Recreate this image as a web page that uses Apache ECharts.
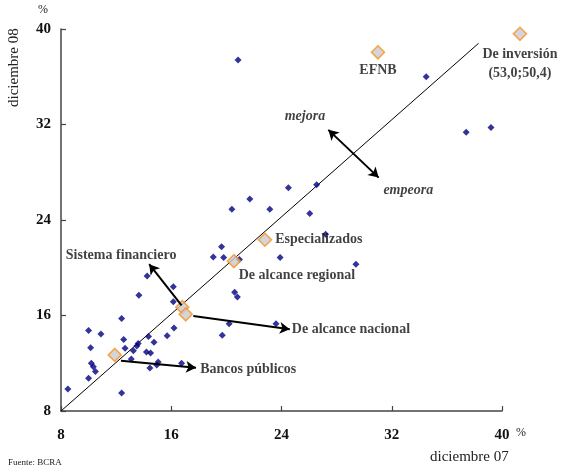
<!DOCTYPE html>
<html>
<head>
<meta charset="utf-8">
<script src="https://cdn.jsdelivr.net/npm/echarts@6/dist/echarts.min.js"></script>
<style>
  html, body { margin: 0; padding: 0; background: #fff; }
  #chart { width: 562px; height: 473px; }
</style>
</head>
<body>
<div id="chart"></div>
<script>
// Ratio por entidad: diciembre 07 (x) vs diciembre 08 (y), en %
const entidadesDic07 = [8.5, 12.4, 10.0, 10.5, 10.35, 10.2, 13.1, 14.45, 14.95, 15.05, 16.75, 14.2, 14.5, 13.25, 12.65, 10.15, 13.5, 13.6, 14.75, 12.55, 14.35, 15.7, 10.9, 10.0, 16.2, 12.4, 16.15, 13.65, 16.15, 14.25, 19.7, 20.2, 23.6, 20.6, 20.8, 19.05, 19.8, 20.95, 23.9, 19.65, 20.4, 23.15, 21.7, 24.5, 26.55, 26.05, 27.2, 29.4, 20.85, 34.5, 37.4, 39.2];
const entidadesDic08 = [9.85, 9.5, 10.75, 11.3, 11.7, 12.0, 12.35, 11.6, 11.85, 12.1, 12.0, 12.95, 12.85, 13.05, 13.25, 13.3, 13.45, 13.65, 13.75, 14.0, 14.25, 14.3, 14.45, 14.75, 14.95, 15.75, 17.15, 17.7, 18.4, 19.3, 14.35, 15.3, 15.3, 17.95, 17.55, 20.9, 20.85, 20.7, 20.85, 21.75, 24.9, 24.9, 25.75, 26.7, 26.95, 24.55, 22.8, 20.3, 37.4, 36.0, 31.35, 31.75];

// Agrupamientos
const grupos = ['Sistema financiero', 'De alcance nacional', 'Bancos públicos', 'De alcance regional', 'Especializados', 'EFNB', 'De inversión'];
const gruposDic07 = [16.8, 17.05, 11.9, 20.55, 22.8, 31.0, 53.0];
const gruposDic08 = [16.7, 16.1, 12.7, 20.55, 22.35, 38.05, 50.4];

const ticks = [8, 16, 24, 32, 40];
const AXIS_MIN = 8, AXIS_MAX = 40, STEP = 8;

const SERIF = '"Liberation Serif", "DejaVu Serif", serif';
const fmt = v => v.toFixed(1).replace('.', ',');

// Valores fuera de escala se dibujan en el borde superior derecho
const clampX = v => Math.min(v, AXIS_MAX + 1.3);
const clampY = v => Math.min(v, AXIS_MAX - 0.4);

const labelBase = { show: true, color: '#111', fontFamily: SERIF, fontWeight: 'bold', fontSize: 14 };

const grupoLabels = {
  'Sistema financiero': { show: false },
  'De alcance nacional': { show: false },
  'Bancos públicos': { show: false },
  'De alcance regional': Object.assign({}, labelBase, { position: 'bottom', distance: 0, offset: [63, 0], formatter: '{b}' }),
  'Especializados': Object.assign({}, labelBase, { position: 'right', distance: 3, formatter: '{b}' }),
  'EFNB': Object.assign({}, labelBase, { position: 'bottom', distance: 4, formatter: '{b}' }),
  'De inversión': Object.assign({}, labelBase, { position: 'bottom', distance: 4, lineHeight: 19,
    formatter: () => 'De inversión\n(' + fmt(gruposDic07[6]) + ';' + fmt(gruposDic08[6]) + ')' })
};

// Textos de anotación (posición en coordenadas de datos)
const notas = [
  { text: 'Sistema financiero', at: [8.35, 21.05], align: 'left', italic: false },
  { text: 'De alcance nacional', at: [24.75, 14.85], align: 'left', italic: false },
  { text: 'Bancos públicos', at: [18.1, 11.5], align: 'left', italic: false },
  { text: 'mejora', at: [25.7, 32.65], align: 'center', italic: true },
  { text: 'empeora', at: [33.2, 26.5], align: 'center', italic: true }
];

// Flechas (desde, hasta) en coordenadas de datos
const flechas = [
  { from: [16.75, 16.85], to: [14.4, 20.3], both: false },
  { from: [17.6, 15.95], to: [24.6, 14.85], both: false },
  { from: [12.35, 12.2], to: [17.8, 11.62], both: false },
  { from: [27.4, 31.55], to: [31.05, 27.55], both: true }
];

const chart = echarts.init(document.getElementById('chart'), null, { renderer: 'canvas' });

const axisCommon = {
  type: 'value', min: AXIS_MIN, max: AXIS_MAX, interval: STEP,
  axisLine: { show: true, lineStyle: { color: '#444', width: 1.5 } },
  axisTick: { show: true, inside: true, length: 5, lineStyle: { color: '#444', width: 1.2 } },
  splitLine: { show: false },
  axisLabel: { color: '#111', fontFamily: SERIF, fontWeight: 'bold', fontSize: 15,
    formatter: v => ticks.includes(v) ? String(v) : '' }
};

chart.setOption({
  animation: false,
  backgroundColor: '#fff',
  grid: { left: 61, top: 29, width: 441, height: 382, containLabel: false },
  xAxis: Object.assign({}, axisCommon, { axisLabel: Object.assign({}, axisCommon.axisLabel, { margin: 17 }) }),
  yAxis: Object.assign({}, axisCommon, { axisLabel: Object.assign({}, axisCommon.axisLabel, { margin: 10 }) }),
  series: [
    {
      name: 'diagonal',
      type: 'line',
      data: [[AXIS_MIN, AXIS_MIN], [38.3, 38.8]],
      symbol: 'none',
      lineStyle: { color: '#000', width: 1 },
      silent: true,
      z: 1
    },
    {
      name: 'entidades',
      type: 'scatter',
      symbol: 'diamond',
      symbolSize: 7,
      itemStyle: { color: '#000080' },
      data: entidadesDic07.map((x, i) => [x, entidadesDic08[i]]),
      z: 2
    },
    {
      name: 'grupos',
      type: 'scatter',
      symbol: 'diamond',
      symbolSize: 13,
      clip: false,
      itemStyle: { color: '#c9c9d4', borderColor: '#f7941d', borderWidth: 1.6 },
      data: grupos.map((g, i) => ({
        name: g,
        value: [clampX(gruposDic07[i]), clampY(gruposDic08[i])],
        label: grupoLabels[g]
      })),
      z: 4
    },
    {
      name: 'notas',
      type: 'scatter',
      symbolSize: 0,
      silent: true,
      data: notas.map(n => ({
        value: n.at,
        label: Object.assign({}, labelBase, {
          position: 'inside', align: n.align, verticalAlign: 'middle',
          fontStyle: n.italic ? 'italic' : 'normal', formatter: n.text
        })
      })),
      z: 5
    },
    {
      name: 'flechas',
      type: 'line',
      data: [],
      silent: true,
      markLine: {
        silent: true,
        animation: false,
        symbolSize: [9, 10],
        label: { show: false },
        lineStyle: { color: '#000', width: 2, type: 'solid' },
        emphasis: { disabled: true },
        data: flechas.map(f => [
          { coord: f.from, symbol: f.both ? 'arrow' : 'none' },
          { coord: f.to, symbol: 'arrow' }
        ])
      },
      z: 3
    }
  ],
  graphic: [
    { type: 'text', left: 38, top: 4, style: { text: '%', fill: '#222', font: '12px ' + SERIF } },
    { type: 'text', x: 7, y: 107, rotation: Math.PI / 2, originX: 0, originY: 0,
      style: { text: 'diciembre 08', fill: '#222', font: '15px ' + SERIF } },
    { type: 'text', left: 516, top: 427, style: { text: '%', fill: '#222', font: '12px ' + SERIF } },
    { type: 'text', left: 430, top: 450, style: { text: 'diciembre 07', fill: '#222', font: '15px ' + SERIF } },
    { type: 'text', left: 8, top: 458, style: { text: 'Fuente: BCRA', fill: '#222', font: '9px ' + SERIF } }
  ]
});
</script>
</body>
</html>
